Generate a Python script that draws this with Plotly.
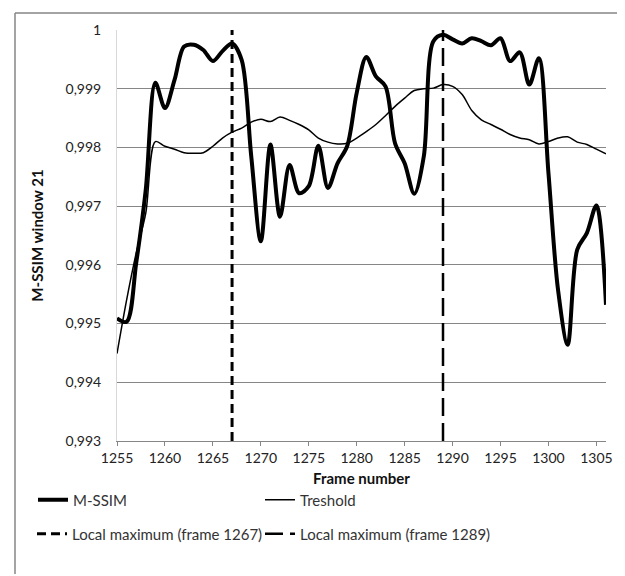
import plotly.graph_objects as go

frames = list(range(1255, 1307))

mssim = [0.99509, 0.99503, 0.99603, 0.99728, 0.99910, 0.99867, 0.99915, 0.99972,
         0.99975, 0.99966, 0.99947, 0.99964, 0.99977, 0.99949, 0.99785, 0.99640,
         0.99805, 0.99682, 0.99770, 0.99722, 0.99734, 0.99803, 0.99731, 0.99773,
         0.99802, 0.99893, 0.99954, 0.99921, 0.99904, 0.99807, 0.99773, 0.99721,
         0.99785, 0.99981, 0.99992, 0.99984, 0.99977, 0.99986, 0.99981, 0.99974,
         0.99986, 0.99947, 0.99962, 0.99907, 0.99952, 0.99756, 0.99557, 0.99464,
         0.99626, 0.99654, 0.99701, 0.99532]

threshold = [0.99449, 0.99540, 0.99620, 0.99688, 0.99810, 0.99802, 0.99797, 0.99791,
             0.99790, 0.99791, 0.99802, 0.99816, 0.99826, 0.99833, 0.99843, 0.99848,
             0.99844, 0.99852, 0.99846, 0.99839, 0.99830, 0.99816, 0.99809, 0.99806,
             0.99807, 0.99816, 0.99827, 0.99839, 0.99854, 0.99870, 0.99884, 0.99897,
             0.99900, 0.99901, 0.99907, 0.99904, 0.99890, 0.99863, 0.99847, 0.99839,
             0.99831, 0.99822, 0.99816, 0.99813, 0.99806, 0.99810, 0.99816, 0.99818,
             0.99809, 0.99805, 0.99797, 0.99789]

local_max_1 = 1267
local_max_2 = 1289

y_tickvals = [0.993, 0.994, 0.995, 0.996, 0.997, 0.998, 0.999, 1.0]
y_ticktext = ["0,993", "0,994", "0,995", "0,996", "0,997", "0,998", "0,999", "1"]
x_tickvals = list(range(1255, 1306, 5))
x_ticktext = [str(v) for v in x_tickvals]

FONT = "Lato"

L, R, T, B = 109, 27, 22, 143
W, H = 625, 576
pw = W - L - R
ph = H - T - B


def px_x(p):
    return (p - L) / pw


def px_y(p):
    return (H - B - p) / ph


fig = go.Figure()
fig.add_trace(go.Scatter(x=frames, y=mssim, mode="lines", name="M-SSIM",
                         line=dict(color="black", width=4, shape="spline", smoothing=0.9),
                         legend="legend"))
fig.add_trace(go.Scatter(x=frames, y=threshold, mode="lines", name="Treshold",
                         line=dict(color="black", width=1.5, shape="spline", smoothing=0.9),
                         legend="legend2"))
fig.add_trace(go.Scatter(x=[local_max_1, local_max_1], y=[y_tickvals[0], y_tickvals[-1]],
                         mode="lines", name="Local maximum (frame 1267)",
                         line=dict(color="black", width=3, dash="9px,5px"),
                         cliponaxis=False, legend="legend3"))
fig.add_trace(go.Scatter(x=[local_max_2, local_max_2], y=[y_tickvals[0], y_tickvals[-1]],
                         mode="lines", name="Local maximum (frame 1289)",
                         line=dict(color="black", width=2.5, dash="18px,7px"),
                         cliponaxis=False, legend="legend4"))

legend_common = dict(orientation="h", xanchor="left", yanchor="middle",
                     font=dict(family=FONT, size=15, color="#333333"),
                     bgcolor="rgba(0,0,0,0)", itemwidth=30)

fig.update_layout(
    width=W, height=H,
    margin=dict(l=L, r=R, t=T, b=B),
    paper_bgcolor="white", plot_bgcolor="white",
    font=dict(family=FONT, size=14, color="#404040"),
    showlegend=True,
    legend=dict(x=px_x(25), y=px_y(492), **legend_common),
    legend2=dict(x=px_x(252), y=px_y(492), **legend_common),
    legend3=dict(x=px_x(24), y=px_y(526), **legend_common),
    legend4=dict(x=px_x(252), y=px_y(526), **legend_common),
    xaxis=dict(range=[1255, 1306], tickvals=x_tickvals, ticktext=x_ticktext,
               showgrid=False, zeroline=False, showline=True, linecolor="#868686",
               linewidth=1, ticks="outside", ticklen=4, tickcolor="#868686",
               tickfont=dict(family=FONT, size=14, color="#222222"),
               title=dict(text="<b>Frame number</b>", standoff=8,
                          font=dict(family=FONT, size=15, color="#111111"))),
    yaxis=dict(range=[0.993, 1.0], tickvals=y_tickvals, ticktext=y_ticktext,
               showgrid=True, gridcolor="#868686", gridwidth=1, zeroline=False,
               showline=True, linecolor="#d9d9d9", linewidth=1, ticks="",
               ticklabelstandoff=12,
               tickfont=dict(family=FONT, size=14, color="#222222"),
               title=dict(text="<b>M-SSIM window 21</b>", standoff=18,
                          font=dict(family=FONT, size=15, color="#111111"))),
)

fig.add_shape(type="line", xref="paper", yref="paper",
              x0=px_x(7), x1=px_x(625), y0=px_y(5), y1=px_y(5),
              line=dict(color="#868686", width=1.5))
fig.add_shape(type="line", xref="paper", yref="paper",
              x0=px_x(7), x1=px_x(7), y0=px_y(5), y1=px_y(566),
              line=dict(color="#868686", width=1.5))

fig.write_html("out.html")
